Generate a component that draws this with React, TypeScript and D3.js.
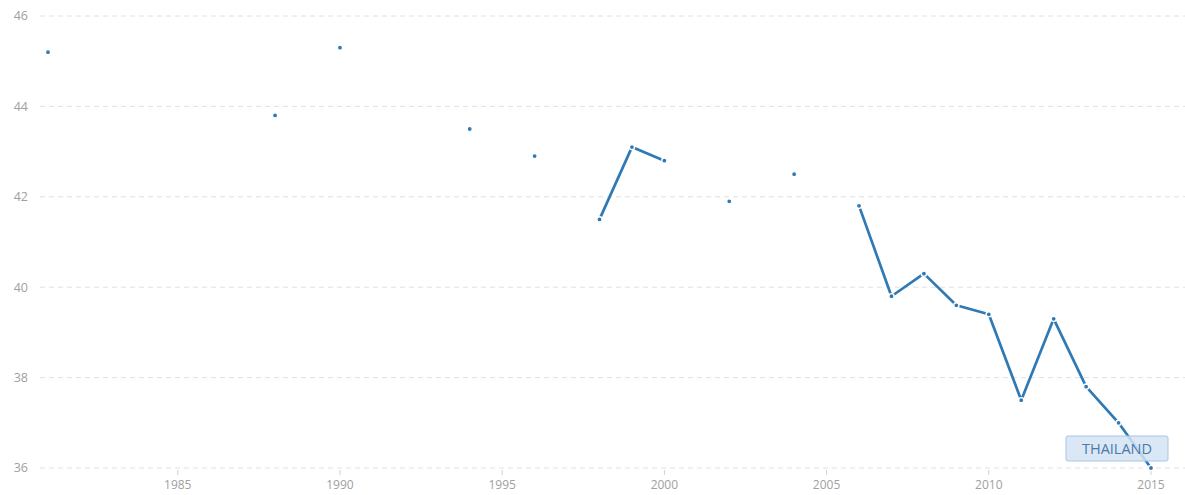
import React from 'react';
import * as d3 from 'd3';

// Years on the x axis and the measured values (null = no data that year)
const years: number[] = d3.range(1981, 2016);
const values: (number | null)[] = [
    45.2, null, null, null, null, null, null, 43.8, null, 45.3,
    null, null, null, 43.5, null, 42.9, null, 41.5, 43.1, 42.8,
    null, 41.9, null, 42.5, null, 41.8, 39.8, 40.3, 39.6, 39.4,
    37.5, 39.3, 37.8, 37.0, 36.0,
];
const yTicks: number[] = [36, 38, 40, 42, 44, 46];
const xTicks: number[] = [1985, 1990, 1995, 2000, 2005, 2010, 2015];
const seriesLabel = 'THAILAND';

const W = 1185;
const H = 495;

const App = () => {
    const x = d3.scaleLinear().domain([1981, 2015]).range([48, 1151]);
    const y = d3.scaleLinear().domain([36, 46]).range([468, 16]);

    const points = years.map((yr, i) => ({ year: yr, value: values[i] }));
    const line = d3.line<{ year: number; value: number | null }>()
        .defined(d => d.value !== null)
        .x(d => x(d.year))
        .y(d => y(d.value as number));

    const blue = '#2f79b5';
    const lastYear = years[years.length - 1];

    return (
        <svg width={W} height={H} style={{ position: 'absolute', left: 0, top: 0, background: '#fff' }}
            fontFamily="'Open Sans', sans-serif">
            {/* grid lines + y labels */}
            {yTicks.map(t => (
                <g key={t}>
                    <line x1={40} x2={W} y1={y(t)} y2={y(t)} stroke="#e0e0e0" strokeDasharray="5,4" strokeWidth={1} />
                    <text x={28} y={y(t)} dy="0.35em" textAnchor="end" fontSize={12.5} fill="#a0a0a0">{t}</text>
                </g>
            ))}
            {/* x ticks */}
            {xTicks.map(t => (
                <g key={t}>
                    <line x1={x(t)} x2={x(t)} y1={470} y2={475} stroke="#d0d0d0" />
                    <text x={x(t)} y={489} textAnchor="middle" fontSize={12} fill="#a0a0a0">{t}</text>
                </g>
            ))}
            {/* the series */}
            <path d={line(points) || ''} fill="none" stroke={blue} strokeWidth={2.7} strokeLinejoin="round" />
            {points.filter(d => d.value !== null).map(d => (
                <circle key={d.year} cx={x(d.year)} cy={y(d.value as number)} r={2.6}
                    fill={blue} stroke="#fff" strokeWidth={1.4} />
            ))}
            {/* series label */}
            <g transform={`translate(${x(lastYear) - 85},${y(36) - 32})`}>
                <rect x={0} y={0} width={102} height={25} rx={2} fill="#d3e3f3" fillOpacity={0.85}
                    stroke="#a7c6e4" strokeWidth={1} />
                <text x={51} y={13} dy="0.35em" textAnchor="middle" fontSize={14.5} fill="#4a7aa8">{seriesLabel}</text>
            </g>
        </svg>
    );
};

export default App;
